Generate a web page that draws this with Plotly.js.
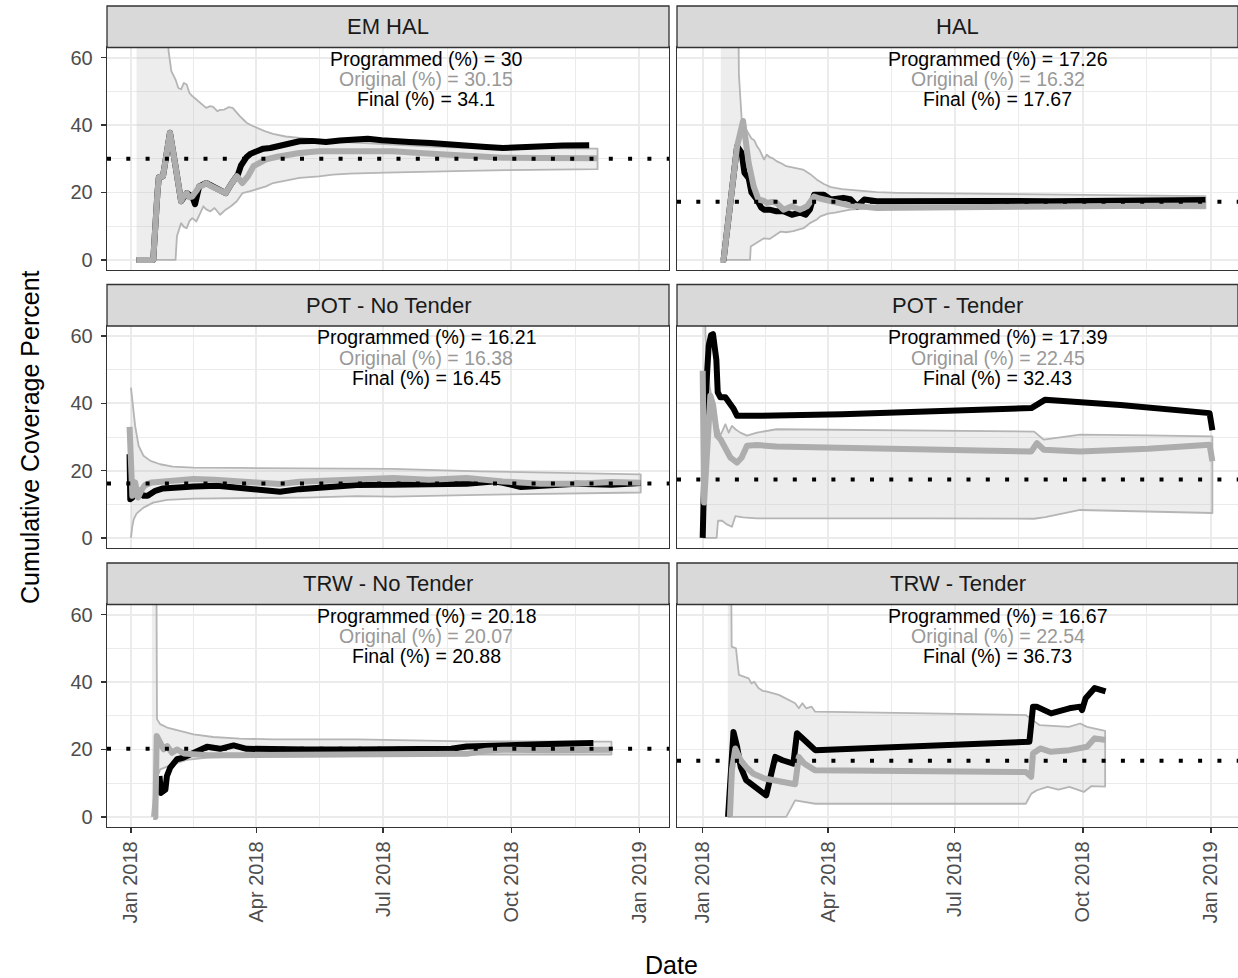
<!DOCTYPE html>
<html>
<head>
<meta charset="utf-8">
<script src="https://cdn.plot.ly/plotly-3.0.1.min.js"></script>
<style>
html,body{margin:0;padding:0;background:#ffffff;}
#chart{width:1238px;height:978px;}
.js-line{stroke-linejoin:round;}
</style>
</head>
<body>
<div id="chart"></div>
<script>
// ---------------- DATA ----------------
// dates are stored as days since 2018-01-01
const panelNames = ['EM HAL', 'HAL', 'POT - No Tender', 'POT - Tender', 'TRW - No Tender', 'TRW - Tender'];
const programmedPct = [30, 17.26, 16.21, 17.39, 20.18, 16.67];
const originalPct = [30.15, 16.32, 16.38, 22.45, 20.07, 22.54];
const finalPct = [34.1, 17.67, 16.45, 32.43, 20.88, 36.73];

const xTickVals = ['2018-01-01', '2018-04-01', '2018-07-01', '2018-10-01', '2019-01-01'];
const xTickText = ['Jan 2018', 'Apr 2018', 'Jul 2018', 'Oct 2018', 'Jan 2019'];
const xMinorVals = ['2018-02-15', '2018-05-16 12:00', '2018-08-16', '2018-11-16'];
const yTickVals = [0, 20, 40, 60];
const yMinorVals = [10, 30, 50];

// EM HAL
const emHalUpper = [[4,100],[26,100],[27,62],[29,56],[32,53.5],[34,51],[36,50.6],[38,52.5],[40,52],[42,49.5],[44,48.6],[47,47.5],[50,46.6],[54,45.1],[57,45.6],[59,45.4],[62,44.1],[64,44.5],[67,44.6],[70,45.3],[73,45.1],[76,43.5],[78,42.7],[81,41.5],[83,40.7],[87,39.8],[90,39.2],[96,38.2],[102,37.4],[111,36.6],[121,36.2],[135,35.8],[145,35.3],[157,34.9],[170,34.6],[183,34.2],[200,33.8],[220,33.5],[241,33.2],[270,33.1],[300,33.0],[335,33.0]];
const emHalLower = [[4,0],[32,0],[33,7],[35,9.5],[36,10.9],[38,9.8],[40,9.4],[42,11.5],[44,12.4],[47,11.4],[50,14],[52,15.9],[54,15],[57,14.4],[60,15.4],[64,13.4],[68,14.9],[72,16],[76,17.4],[80,19.8],[85,20.3],[90,20.8],[97,21.8],[102,22.8],[112,23.6],[121,24.3],[135,24.8],[145,25.3],[157,25.6],[183,25.9],[210,26.2],[241,26.4],[270,26.6],[300,26.8],[335,26.9]];
const emHalOriginal = [[4,0],[16,0],[19,19.8],[20,24.5],[23,24.8],[28,37.7],[32,27.8],[36,17.4],[38,19],[40,19.8],[42,18.6],[44,18.8],[47,20.5],[49,21.8],[52,22.2],[54,22.8],[57,22],[60,21.3],[64,20.3],[68,19.8],[72,22.5],[76,24.8],[80,22.8],[84,24.8],[88,27.8],[93,28.8],[97,29.8],[105,30.6],[112,31.2],[121,31.7],[135,32.2],[150,32.2],[170,32.3],[188,32.2],[210,31.6],[241,30.8],[267,30.3],[294,30.2],[320,30.1],[335,30.15]];
const emHalFinal = [[4,0],[16,0],[19,19.8],[20,24.5],[23,24.8],[28,37.7],[32,27.8],[36,17.4],[40,19.8],[44,18.8],[46,16.5],[47,17.9],[49,21.8],[54,22.8],[60,21.3],[64,20.3],[68,19.8],[72,22.5],[75,24.8],[77,25.5],[79,28],[81,29.5],[83,30.5],[86,31.5],[90,32.2],[95,33],[100,33.2],[106,33.8],[112,34.6],[121,35.2],[130,35.3],[140,35],[150,35.4],[160,35.6],[170,35.9],[180,35.5],[188,35.2],[200,35],[215,34.7],[228,34.2],[241,33.7],[255,33.5],[267,33.2],[280,33.5],[294,33.7],[310,33.9],[329,34.0]];

// HAL
const halUpper = [[13,100],[25,100],[26,55],[28,41.7],[30,39.5],[33,37.2],[35,36],[37,35.5],[39,33.7],[41,32.5],[44,29.8],[46,31.2],[48,30.5],[50,30.2],[53,29.3],[57,28.5],[60,27.8],[66,27.3],[72,26.8],[77,25.5],[82,23.8],[87,22.5],[92,21.6],[100,21.0],[106,20.8],[115,20.4],[125,20.1],[140,19.9],[161,19.8],[200,19.6],[250,19.3],[300,19.1],[361,18.9]];
const halLower = [[13,0],[34,0],[34.5,4],[39,5],[44,6.4],[48,6.2],[51,7],[56,8.4],[60,8.2],[65,8.5],[70,9.1],[72.5,9.4],[77,10.9],[82,12],[84.5,12.9],[90,13.7],[95,14],[106,14.9],[125,15.4],[161,15.6],[250,15.5],[300,15.4],[361,15.3]];
const halOriginal = [[13,0],[15,0],[24.7,33.7],[29,41.2],[31,35],[33,28.8],[36.6,21.8],[40,17.9],[44,17.5],[46,16.9],[50,17.2],[53,16.9],[58,14.9],[61,15.5],[64,15.9],[68,15.2],[70,14.9],[75,15.9],[77,17],[80,18.8],[84,18.2],[87,17.9],[94,16.9],[100,16.5],[106,16.1],[115,15.8],[125,15.4],[140,15.5],[161,15.6],[200,15.8],[250,15.9],[300,16.0],[361,16.1]];
const halFinal = [[13,0],[15,0],[24.7,33.7],[28,31.7],[30,25.8],[33,24.3],[35,20],[39,17.9],[42,15.5],[44,14.9],[48,14.9],[53,14.4],[58,14.4],[61,14.0],[64,13.4],[68,13.8],[70,14],[74,13.4],[77,15],[80,19.3],[84,19.3],[87,19.3],[92,17.9],[96,18.0],[101,18.4],[106,18.0],[111,15.9],[116,17.9],[125,17.4],[137,17.4],[161,17.6],[200,17.5],[250,17.4],[300,17.5],[361,17.8]];

// POT - No Tender
const potNtUpper = [[0,44.7],[3,33.3],[5.5,27.4],[9,24.4],[14,22.9],[21,21.9],[30,21.2],[45,20.9],[78,20.8],[126,20.7],[162,20.5],[188,20.5],[250,19.8],[320,19.2],[366,18.9]];
const potNtLower = [[0,0],[1,3.5],[2,5.5],[4,7.2],[9,9],[16,10.5],[26,11.3],[45,11.7],[78,11.8],[126,12],[162,12.4],[188,12.3],[250,12.8],[320,13.3],[366,13.5]];
const potNtOriginal = [[-1,33],[0,20],[1,12.5],[3,16.5],[5,12],[8,14.5],[10,15.7],[15,16.5],[21,16.7],[30,17.3],[45,17.5],[60,17.3],[78,17],[90,16.5],[107,16],[121,16.7],[138,17],[162,17.3],[188,17.8],[214,17.3],[241,17.8],[267,16.8],[294,16.1],[320,16.1],[345,16.6],[366,16.4]];
const potNtFinal = [[-1,24.9],[-0.5,11.5],[1,12],[4,14.5],[6.5,13.5],[9,12.5],[12,12.5],[17.5,14],[23,14.7],[31,15],[45,15.3],[62,15.5],[78,15],[90,14.5],[107,13.7],[121,14.5],[138,15],[162,15.7],[188,15.8],[214,15.9],[241,16.1],[260,16.8],[267,16.4],[280,15.1],[294,15.6],[320,16.1],[345,15.8],[366,16.3]];

// POT - Tender
const potTUpper = [[0,100],[1,100],[2,60],[5,45],[8,38],[10,34.3],[12.7,30.4],[16.3,33.8],[18.7,31.3],[21,33.3],[23.5,32.3],[27,31.3],[31.8,30.4],[39,31.3],[53,32.3],[100,32.1],[160,31.9],[200,31.8],[238,31.6],[245,29.2],[271,30.7],[320,30.5],[366,30.2]];
const potTLower = [[0,0],[10,0],[11,5.1],[14,5.1],[17,4.1],[21,3.3],[23.5,6.5],[29,6.1],[39,5.8],[161,5.8],[238,5.7],[246,6.2],[271,8.3],[320,7.8],[366,7.4]];
const potTOriginal = [[0,49.7],[1,10.5],[3,24.4],[5.5,42.3],[7.5,39.5],[9,34.3],[10.3,30.4],[12.7,29.4],[16.3,26.4],[19.9,23.9],[24.7,22.4],[28,23.9],[31.8,27.4],[39,27.6],[53,27.2],[100,26.8],[161,26.2],[200,26],[236,25.7],[240,28.2],[245,26.2],[271,25.7],[320,26.5],[364,27.7],[366,22.8]];
const potTFinal = [[0,0],[1.5,30],[2.6,45],[4.3,57.1],[6,60.3],[7.4,60.6],[9,56],[9.8,53],[10.8,43.3],[12.7,41.8],[16.3,41.8],[19.9,39.8],[22.3,38.3],[24.7,36.3],[41.4,36.3],[100,36.8],[161,37.5],[236,38.6],[246,41.1],[300,39.5],[364,37.1],[366,32]];

// TRW - No Tender
const trwNtUpper = [[15,100],[18,100],[18.7,29],[21,27.5],[26,26.5],[35,25.5],[45,24.5],[59,23.7],[78,23.2],[102,23],[162,23],[241,22.4],[300,22.3],[345,22.3]];
const trwNtLower = [[15,0],[17,8],[19,12],[21,14.1],[30,15.6],[40,16.9],[55,17.6],[78,17.9],[162,18],[241,18.5],[345,18.5]];
const trwNtOriginal = [[16,0],[17.5,0],[18.5,24],[21,22],[23.5,20],[26,21],[29.4,19],[33,20],[38,18.8],[45,18.6],[55,18.3],[78,18.3],[162,18.3],[188,18.5],[241,18.7],[255,19.6],[267,19.9],[300,19.8],[345,19.9]];
const trwNtFinal = [[20.5,12.1],[21.5,7.1],[24.7,8.1],[25.8,12.1],[28.2,14.6],[30.6,16.1],[33,17.1],[37.8,17.6],[42.6,18.6],[49.8,20],[54.6,20.8],[64,20.2],[73.7,21.2],[83,20.2],[102,20],[126,20],[162,20],[188,20.1],[230,20.2],[241,20.9],[267,21.4],[300,21.6],[332,21.9]];

// TRW - Tender
const trwTUpper = [[18,100],[20,100],[20.8,50.5],[23.9,50],[26,42.1],[29,41.6],[33,41.1],[35,39.6],[37,40.1],[40,38.2],[43,37.4],[45.6,37.2],[54.7,36.2],[66.4,33.7],[69,32.2],[71.6,33.7],[74.3,32.2],[78.2,32.7],[80.8,31.2],[150,30.8],[232,30.2],[237,28.7],[242,27.2],[263,26.7],[271,27.7],[276,26.7],[289,25.5]];
const trwTLower = [[18,0],[60,0],[66.4,4.9],[80.8,3.9],[232,3.9],[236,6.9],[240,7.9],[247.6,8.9],[255.5,8.1],[263.3,8.9],[273.7,7.4],[279,9.1],[289,9.0]];
const trwTOriginal = [[19.5,0],[21,14],[23.4,20.3],[27.3,16.8],[31.2,14.8],[36.4,12.8],[44.3,11.4],[54.7,10.4],[66.4,9.7],[69,17.8],[73,15.8],[80.8,13.8],[232,13.3],[235.9,11.9],[237.2,18.8],[242.4,20.3],[250,19.3],[263.3,19.8],[271,20.3],[276,20.8],[281.5,23.3],[289.3,22.8]];
const trwTFinal = [[18.2,0],[22.1,25.2],[24.7,20.8],[27.3,14.8],[31.2,10.9],[36.4,9.4],[43,7.4],[45.6,6.4],[52.1,17.8],[57.3,16.8],[65.1,15.8],[67.7,24.8],[73,22.8],[80.8,19.8],[234.6,22.3],[237.2,32.7],[239.8,32.7],[250.2,30.7],[263.3,32.2],[271.1,32.7],[272.4,31.7],[275,35.2],[281.5,38.2],[289.3,37.2]];

const bandUpper = [emHalUpper, halUpper, potNtUpper, potTUpper, trwNtUpper, trwTUpper];
const bandLower = [emHalLower, halLower, potNtLower, potTLower, trwNtLower, trwTLower];
const originalSeries = [emHalOriginal, halOriginal, potNtOriginal, potTOriginal, trwNtOriginal, trwTOriginal];
const finalSeries = [emHalFinal, halFinal, potNtFinal, potTFinal, trwNtFinal, trwTFinal];

// ---------------- HELPERS ----------------
const DAY0 = Date.UTC(2018, 0, 1);
function dayToDate(d) {
  const dt = new Date(DAY0 + d * 86400000);
  return dt.toISOString().slice(0, 19).replace('T', ' ');
}

// ---------------- LAYOUT GEOMETRY (pixels) ----------------
const W = 1238, H = 978;
const colPx = [[107, 669], [677, 1238]];
const colDayRange = [[-17.2, 386.3], [-18.45, 384.4]];
const rowPx = [[47.5, 270], [326, 548], [604.5, 827]];   // plot areas (top, bottom)
const stripH = 41.5;
const FONT = 'Liberation Sans, Arial, sans-serif';
const yRange = [-3, 63];
const labelX = '2018-08-01';
const labelY = [59.6, 53.6, 47.6];

const traces = [];
const layout = {
  width: W, height: H, autosize: false,
  margin: {l: 0, r: 0, t: 0, b: 0, pad: 0},
  paper_bgcolor: '#ffffff', plot_bgcolor: '#ffffff',
  showlegend: false,
  font: {family: FONT, color: '#000000'},
  shapes: [], annotations: []
};

for (let i = 0; i < 6; i++) {
  const col = i % 2, row = Math.floor(i / 2);
  const s = i === 0 ? '' : String(i + 1);
  const xa = 'x' + s, ya = 'y' + s;
  const xd = [colPx[col][0] / W, colPx[col][1] / W];
  const yd = [1 - rowPx[row][1] / H, 1 - rowPx[row][0] / H];

  layout['xaxis' + s] = {
    domain: xd, anchor: ya, type: 'date',
    range: [dayToDate(colDayRange[col][0]), dayToDate(colDayRange[col][1])],
    tickmode: 'array', tickvals: xTickVals, ticktext: xTickText, tickangle: -90,
    showticklabels: row === 2, ticks: row === 2 ? 'outside' : '',
    ticklen: 5, tickwidth: 1.3, tickcolor: '#333333',
    tickfont: {family: FONT, size: 20, color: '#4D4D4D'},
    showgrid: true, gridcolor: '#EBEBEB', gridwidth: 1.8,
    minor: {tickmode: 'array', tickvals: xMinorVals, showgrid: true, gridcolor: '#EBEBEB', gridwidth: 1, ticks: ''},
    zeroline: false, showline: true, mirror: true, linecolor: '#333333', linewidth: 1.3,
    fixedrange: true
  };
  layout['yaxis' + s] = {
    domain: yd, anchor: xa, range: yRange,
    tickmode: 'array', tickvals: yTickVals, ticktext: yTickVals.map(String),
    showticklabels: col === 0, ticks: col === 0 ? 'outside' : '',
    ticklen: 5, tickwidth: 1.3, tickcolor: '#333333', ticklabelstandoff: 4,
    tickfont: {family: FONT, size: 20, color: '#4D4D4D'},
    showgrid: true, gridcolor: '#EBEBEB', gridwidth: 1.8,
    minor: {tickmode: 'array', tickvals: yMinorVals, showgrid: true, gridcolor: '#EBEBEB', gridwidth: 1, ticks: ''},
    zeroline: false, showline: true, mirror: true, linecolor: '#333333', linewidth: 1.3,
    fixedrange: true
  };

  // ribbon (closed polygon: upper forward, lower backward)
  const up = bandUpper[i], lo = bandLower[i].slice().reverse();
  traces.push({
    type: 'scatter', mode: 'lines', xaxis: xa, yaxis: ya,
    x: up.map(p => dayToDate(p[0])).concat(lo.map(p => dayToDate(p[0]))),
    y: up.map(p => p[1]).concat(lo.map(p => p[1])),
    fill: 'toself', fillcolor: 'rgba(190,190,190,0.28)',
    line: {color: '#B5B5B5', width: 1.8},
    hoverinfo: 'skip'
  });
  // final (black)
  traces.push({
    type: 'scatter', mode: 'lines', xaxis: xa, yaxis: ya,
    x: finalSeries[i].map(p => dayToDate(p[0])), y: finalSeries[i].map(p => p[1]),
    line: {color: '#000000', width: 6}, hoverinfo: 'skip'
  });
  // original (grey)
  traces.push({
    type: 'scatter', mode: 'lines', xaxis: xa, yaxis: ya,
    x: originalSeries[i].map(p => dayToDate(p[0])), y: originalSeries[i].map(p => p[1]),
    line: {color: '#ADADAD', width: 6}, hoverinfo: 'skip'
  });

  // programmed dotted reference line
  layout.shapes.push({
    type: 'line', xref: xa + ' domain', yref: ya, x0: 0, x1: 1,
    y0: programmedPct[i], y1: programmedPct[i], layer: 'above',
    line: {color: '#000000', width: 4, dash: '4px,15.3px'}
  });
  // strip
  layout.shapes.push({
    type: 'rect', xref: 'paper', yref: 'paper', layer: 'above',
    x0: xd[0], x1: xd[1], y0: yd[1], y1: yd[1] + stripH / H,
    fillcolor: '#D9D9D9', line: {color: '#333333', width: 1.3}
  });
  layout.annotations.push({
    xref: 'paper', yref: 'paper', x: (xd[0] + xd[1]) / 2, y: yd[1] + stripH / 2 / H,
    xanchor: 'center', yanchor: 'middle', showarrow: false,
    text: panelNames[i], font: {family: FONT, size: 22, color: '#1A1A1A'}
  });
  // in-panel labels
  const lbl = [
    ['Programmed (%) = ' + programmedPct[i], '#000000'],
    ['Original (%) = ' + originalPct[i], '#999999'],
    ['Final (%) = ' + finalPct[i], '#000000']
  ];
  lbl.forEach((l, k) => layout.annotations.push({
    xref: xa, yref: ya, x: labelX, y: labelY[k], xanchor: 'center', yanchor: 'middle',
    showarrow: false, text: l[0], font: {family: FONT, size: 19.5, color: l[1]}
  }));
}

// axis titles
layout.annotations.push({
  xref: 'paper', yref: 'paper', x: 30 / W, y: 1 - 437 / H, xanchor: 'center', yanchor: 'middle',
  showarrow: false, textangle: -90, text: 'Cumulative Coverage Percent',
  font: {family: FONT, size: 25, color: '#000000'}
});
layout.annotations.push({
  xref: 'paper', yref: 'paper', x: 671 / W, y: 1 - 965 / H, xanchor: 'center', yanchor: 'middle',
  showarrow: false, text: 'Date', font: {family: FONT, size: 25, color: '#000000'}
});

Plotly.newPlot('chart', traces, layout, {staticPlot: true, displayModeBar: false});
</script>
</body>
</html>
